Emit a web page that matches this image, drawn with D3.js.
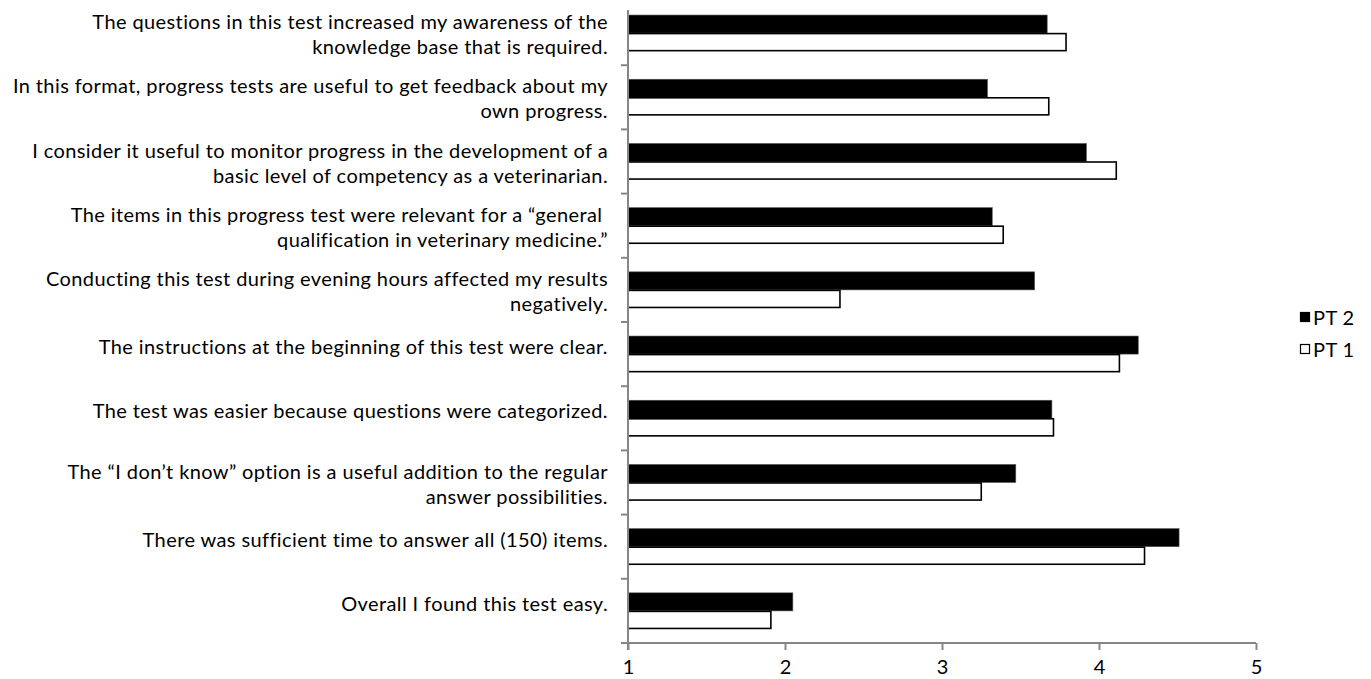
<!DOCTYPE html>
<html>
<head>
<meta charset="utf-8">
<script src="https://cdn.jsdelivr.net/npm/d3@7"></script>
<style>
  body { margin: 0; background: #fff; }
  text { font-family: "Gill Sans", "Gill Sans MT", Lato, sans-serif; fill: #000; }
</style>
</head>
<body>
<svg id="chart"></svg>
<script>
// questions, top to bottom, already split into the lines shown
const labels = [
  ["The questions in this test increased my awareness of the", "knowledge base that is required."],
  ["In this format, progress tests are useful to get feedback about my", "own progress."],
  ["I consider it useful to monitor progress in the development of a", "basic level of competency as a veterinarian."],
  ["The items in this progress test were relevant for a \u201cgeneral ", "qualification in veterinary medicine.\u201d"],
  ["Conducting this test during evening hours affected my results", "negatively."],
  ["The instructions at the beginning of this test were clear."],
  ["The test was easier because questions were categorized."],
  ["The \u201cI don\u2019t know\u201d option is a useful addition to the regular", "answer possibilities."],
  ["There was sufficient time to answer all (150) items."],
  ["Overall I found this test easy."]
];
const pt2 = [3.67, 3.29, 3.92, 3.32, 3.59, 4.25, 3.70, 3.47, 4.51, 2.05];
const pt1 = [3.79, 3.68, 4.11, 3.39, 2.35, 4.13, 3.71, 3.25, 4.29, 1.91];
const seriesNames = ["PT 2", "PT 1"];
const xTicks = [1, 2, 3, 4, 5];

const width = 1371, height = 679;
const margin = { top: 1, right: 115, bottom: 36, left: 628 };
const fontSize = 20;

const svg = d3.select("#chart")
  .attr("width", width)
  .attr("height", height);

const x = d3.scaleLinear()
  .domain([1, 5])
  .range([margin.left, width - margin.right]);

const y0 = d3.scaleBand()
  .domain(d3.range(labels.length))
  .range([margin.top, height - margin.bottom])
  .paddingInner(0.4375)
  .paddingOuter(0.21875);

const y1 = d3.scaleBand()
  .domain([0, 1])
  .range([0, y0.bandwidth()]);

const rows = labels.map((l, i) => ({ i, vals: [pt2[i], pt1[i]] }));

// bars
const g = svg.append("g")
  .selectAll("g")
  .data(rows)
  .join("g")
  .attr("transform", d => `translate(0,${y0(d.i)})`);

g.selectAll("rect")
  .data(d => d.vals.map((v, s) => ({ v, s })))
  .join("rect")
  .attr("x", x(1))
  .attr("y", d => y1(d.s) + (d.s === 1 ? 0.5 : 0))
  .attr("width", d => x(d.v) - x(1))
  .attr("height", d => y1.bandwidth() - (d.s === 1 ? 1 : 0))
  .attr("fill", d => d.s === 0 ? "#000" : "#fff")
  .attr("stroke", d => d.s === 0 ? "#555" : "#000")
  .attr("stroke-width", d => d.s === 0 ? 0.6 : 1.6);

// x axis
const axisY = height - margin.bottom;
const xAxis = svg.append("g")
  .attr("transform", `translate(0,${axisY})`)
  .call(d3.axisBottom(x).tickValues(xTicks).tickFormat(d3.format("d"))
    .tickSize(7).tickSizeOuter(0).tickPadding(10));
xAxis.select(".domain").attr("stroke", "#868686").attr("stroke-width", 2)
  .attr("d", `M${x(1) - 7},0H${x(5)}`);
xAxis.selectAll(".tick line").attr("stroke", "#868686").attr("stroke-width", 2);
xAxis.selectAll(".tick text").attr("font-size", fontSize)
  .style("font-family", '"Gill Sans", Lato, sans-serif');

// y axis: line plus ticks between categories
const step = y0.step();
const yBounds = d3.range(labels.length + 1).map(k => margin.top + k * step);
svg.append("line")
  .attr("x1", x(1)).attr("x2", x(1))
  .attr("y1", margin.top + 9).attr("y2", axisY + 7)
  .attr("stroke", "#868686").attr("stroke-width", 2);
svg.append("g")
  .selectAll("line")
  .data(yBounds.slice(1, -1))
  .join("line")
  .attr("x1", x(1) - 7).attr("x2", x(1))
  .attr("y1", d => d).attr("y2", d => d)
  .attr("stroke", "#868686").attr("stroke-width", 2);

// category labels, right aligned
const lab = svg.append("g")
  .selectAll("text")
  .data(labels)
  .join("text")
  .attr("text-anchor", "end")
  .attr("font-size", fontSize)
  .attr("letter-spacing", "0.4px")
  .attr("x", 608)
  .attr("y", (d, i) => y0(i) + y0.bandwidth() / 2);

lab.selectAll("tspan")
  .data(d => d.map((t, k) => ({ t, k, n: d.length })))
  .join("tspan")
  .attr("x", 608)
  .attr("dy", d => d.n === 1 ? "0.0em" : (d.k === 0 ? "-0.2em" : "1.25em"))
  .text(d => d.t);

// legend
const legend = svg.append("g")
  .selectAll("g")
  .data(seriesNames)
  .join("g")
  .attr("transform", (d, i) => `translate(1300,${312 + i * 32})`);
legend.append("rect")
  .attr("x", 0.5).attr("y", 0.5)
  .attr("width", 9).attr("height", 9)
  .attr("fill", (d, i) => i === 0 ? "#000" : "#fff")
  .attr("stroke", "#000").attr("stroke-width", 1.2);
legend.append("text")
  .attr("x", 13).attr("y", 13)
  .attr("font-size", fontSize)
  .attr("letter-spacing", "0.4px")
  .text(d => d);
</script>
</body>
</html>
